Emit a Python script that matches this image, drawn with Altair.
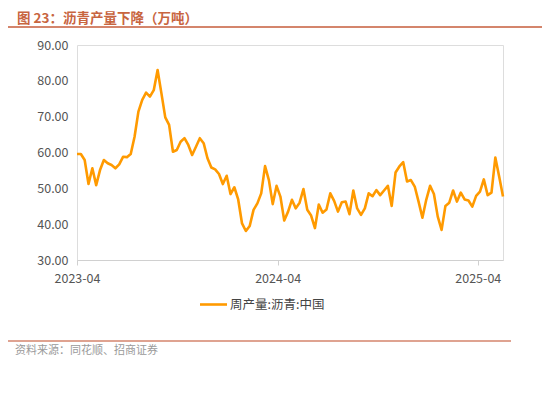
import altair as alt
import pandas as pd

values = [
    59.6, 59.6, 57.9, 51.2, 55.6, 50.9, 55.1, 57.9, 57.0, 56.5,
    55.6, 56.7, 58.8, 58.7, 59.6, 64.4, 71.4, 74.7, 76.7, 75.6,
    77.4, 83.0, 76.5, 69.8, 67.7, 60.2, 60.7, 63.0, 64.0, 62.1,
    59.3, 61.6, 64.0, 62.6, 58.4, 55.8, 55.3, 54.0, 51.2, 53.5,
    48.4, 50.3, 46.9, 40.2, 38.1, 39.5, 44.0, 45.8, 48.6,
    56.2, 52.3, 45.6, 50.7, 47.7, 41.0, 43.5, 46.8, 44.4, 46.0,
    49.8, 44.0, 42.4, 38.9, 45.5, 43.2, 44.1, 48.6, 46.5, 43.5,
    46.1, 46.3, 42.8, 49.4, 44.4, 42.6, 44.4, 48.6, 47.8, 49.5,
    48.1, 49.4, 50.7, 45.1, 54.4, 56.1, 57.3, 51.9, 52.3, 50.5,
    46.3, 41.8, 46.8, 50.7, 48.4, 42.1, 38.4, 45.1, 46.0, 49.4,
    46.3, 48.8, 46.9, 46.6, 44.9, 47.9, 49.1, 52.5, 48.1, 48.8,
    58.6, 53.3, 47.7,
]
dates = pd.date_range("2023-04-01", periods=len(values), freq="7D")
series_name = "周产量:沥青:中国"
title_text = "图 23：沥青产量下降（万吨）"
source_text = "资料来源：同花顺、招商证券"
tick_dates = ["2023-04-01", "2024-04-01", "2025-04-01"]

df = pd.DataFrame({"date": dates, "value": values, "series": series_name})

W, H = 426, 215
OX, OY = 77, 45  # plot origin in page coordinates
FONT = "Noto Sans CJK SC"
ACCENT = "#C8653F"
RULE = "#D4856C"

line = alt.Chart(df).mark_line(color="#FF9A00", strokeWidth=2.6, strokeJoin="round").encode(
    x=alt.X(
        "date:T",
        scale=alt.Scale(domain=[dates[0].isoformat(), dates[-1].isoformat()]),
        axis=alt.Axis(
            values=[pd.Timestamp(d).isoformat() for d in tick_dates],
            format="%Y-%m",
            title=None,
            grid=False,
            domainColor="#D0D0D0",
            domainWidth=1.2,
            tickColor="#D0D0D0",
            tickSize=5,
            labelFont=FONT,
            labelFontSize=12.5,
            labelColor="#555555",
            labelPadding=7,
            labelFlush=False,
        ),
    ),
    y=alt.Y(
        "value:Q",
        scale=alt.Scale(domain=[30, 90], nice=False),
        axis=alt.Axis(
            values=[30, 40, 50, 60, 70, 80, 90],
            format=".2f",
            title=None,
            grid=False,
            domain=False,
            ticks=False,
            labelFont=FONT,
            labelFontSize=12.5,
            labelColor="#555555",
            labelPadding=9,
        ),
    ),
)

def px(x):
    return alt.value(x - OX)

def py(y):
    return alt.value(y - OY)

anchor = pd.DataFrame({"a": [0]})

title = alt.Chart(anchor).mark_text(
    text=title_text, font=FONT, fontSize=13.5, fontWeight="bold", color=ACCENT,
    align="left", baseline="middle",
).encode(x=px(17), y=py(19))

title_rule = alt.Chart(anchor).mark_rule(color=RULE, strokeWidth=1.8).encode(
    x=px(8), x2=px(550), y=py(27)
)

legend_line = alt.Chart(anchor).mark_rule(color="#FF9A00", strokeWidth=2.6).encode(
    x=px(200), x2=px(227), y=py(304.5)
)

legend_text = alt.Chart(anchor).mark_text(
    text=series_name, font=FONT, fontSize=12.5, color="#444444",
    align="left", baseline="middle",
).encode(x=px(230), y=py(304.5))

bottom_rule = alt.Chart(anchor).mark_rule(color=RULE, strokeWidth=1.5).encode(
    x=px(7), x2=px(511), y=py(341)
)

source = alt.Chart(anchor).mark_text(
    text=source_text, font=FONT, fontSize=11, color="#9A9A9A",
    align="left", baseline="middle",
).encode(x=px(15), y=py(351))

chart = alt.layer(
    line, title, title_rule, legend_line, legend_text, bottom_rule, source
).properties(
    width=W,
    height=H,
    autosize=alt.AutoSizeParams(type="none"),
    padding={"left": OX - 8, "top": OY - 8, "right": 534 - (OX - 8) - W, "bottom": 377 - (OY - 8) - H},
).configure_view(stroke=None).configure(background="white")

chart.save("out.html", embed_options={"renderer": "svg", "actions": False})
